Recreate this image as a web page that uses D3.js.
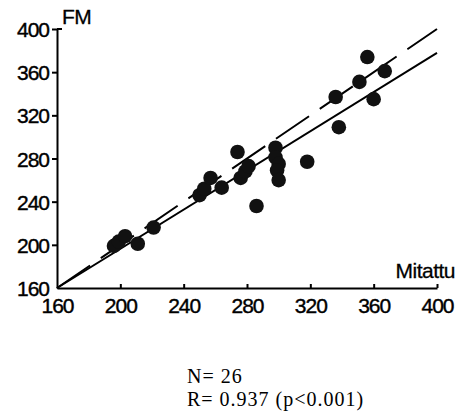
<!DOCTYPE html>
<html>
<head>
    <meta charset="utf-8">
    <title>FM vs Mitattu</title>
    <script src="https://d3js.org/d3.v7.min.js"></script>
    <style>
        html, body { margin: 0; background: #fff; }
        svg { display: block; }
        .tick text { font-family: "Liberation Sans", Arial, sans-serif; font-size: 21px; letter-spacing: -1px; fill: #000; stroke: #000; stroke-width: 0.4px; }
        .domain, .tick line { stroke: #000; stroke-width: 2px; }
        .axisTitle { font-family: "Liberation Sans", Arial, sans-serif; font-size: 21px; letter-spacing: -0.5px; fill: #000; stroke: #000; stroke-width: 0.3px; }
        .stats { font-family: "Liberation Serif", "Times New Roman", serif; font-size: 20px; letter-spacing: 1px; fill: #000; }
    </style>
</head>
<body>
    <svg></svg>
    <script>
        // measured values (Mitattu, FM)
        var mitattu = [196, 199, 203, 211, 221, 250, 253, 257, 264, 274, 276, 279, 281,
                       298, 298, 300, 299, 300, 318, 286, 356, 367, 351, 336, 360, 338];
        var fm      = [199, 203, 208, 201, 216, 246, 252, 262, 253, 286, 262, 268, 273,
                       290, 281, 275, 269, 260, 277, 236, 374, 361, 351, 337, 335, 309];
        var ticks = [160, 200, 240, 280, 320, 360, 400];
        // regression line: FM = a + b * Mitattu
        var regA = 14.7, regB = 0.908;
        var statLines = ["N= 26", "R= 0.937 (p<0.001)"];

        var width = 459, height = 415;
        var svg = d3.select("svg").attr("width", width).attr("height", height);

        var x = d3.scaleLinear().domain([160, 400]).range([57, 437]);
        var y = d3.scaleLinear().domain([160, 400]).range([288, 29]);

        // identity line (dashed)
        svg.append("line")
            .attr("x1", x(160)).attr("y1", y(160))
            .attr("x2", x(400)).attr("y2", y(400))
            .attr("stroke", "#000").attr("stroke-width", 2)
            .attr("stroke-dasharray", "40,13");

        // regression line
        svg.append("line")
            .attr("x1", x(160)).attr("y1", y(regA + regB * 160))
            .attr("x2", x(400)).attr("y2", y(regA + regB * 400))
            .attr("stroke", "#000").attr("stroke-width", 2);

        svg.append("g")
            .selectAll("circle")
            .data(d3.range(mitattu.length))
            .enter().append("circle")
            .attr("cx", i => x(mitattu[i]))
            .attr("cy", i => y(fm[i]))
            .attr("r", 7.3)
            .attr("fill", "#111");

        var yAxis = svg.append("g")
            .attr("transform", "translate(" + x(160) + ",0)")
            .call(d3.axisLeft(y).tickValues(ticks).tickSize(5).tickSizeOuter(0).tickPadding(3));
        yAxis.selectAll(".tick text").attr("dy", "0.36em");
        yAxis.selectAll(".tick").filter(d => d === 160).select("line").remove();
        // small hook at the top
        yAxis.append("line").attr("x1", 0).attr("x2", 5)
            .attr("y1", y(400)).attr("y2", y(400))
            .attr("stroke", "#000").attr("stroke-width", 2);

        var xAxis = svg.append("g")
            .attr("transform", "translate(0," + y(160) + ")")
            .call(d3.axisBottom(x).tickValues(ticks).tickSize(-4).tickSizeOuter(0).tickPadding(10));
        xAxis.selectAll(".tick").filter(d => d === 160).select("line").remove();
        xAxis.selectAll(".tick text").attr("dy", "0.71em");

        svg.append("text").attr("class", "axisTitle")
            .attr("x", 62).attr("y", 24).text("FM");
        svg.append("text").attr("class", "axisTitle")
            .attr("x", 455).attr("y", 278).attr("text-anchor", "end").text("Mitattu");

        svg.append("g").selectAll("text")
            .data(statLines)
            .enter().append("text")
            .attr("class", "stats")
            .attr("x", 187)
            .attr("y", (d, i) => 383 + i * 23)
            .text(d => d);
    </script>
</body>
</html>
